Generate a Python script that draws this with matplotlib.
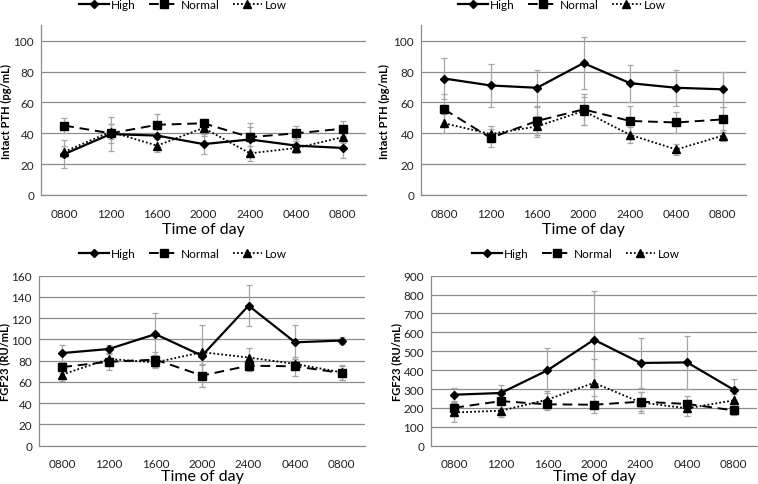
import matplotlib
matplotlib.use("Agg")
import matplotlib.pyplot as plt

plt.rcParams['font.family'] = ['Lato', 'DejaVu Sans']

times = ["0800", "1200", "1600", "2000", "2400", "0400", "0800"]
series_names = ["High", "Normal", "Low"]

# Panel A: Intact PTH (left)
pth_a_high = [26.5, 39.5, 38.5, 33, 36, 32, 30.5]
pth_a_high_err = [9, 11, 8, 6.5, 8, 4, 6.5]
pth_a_normal = [45, 40, 45.5, 46.5, 37.5, 40, 43]
pth_a_normal_err = [5, 6, 7, 3, 9, 5, 5]
pth_a_low = [28, 41, 32, 43.5, 27, 30.5, 37.5]
pth_a_low_err = [3.5, 5, 4, 5, 5, 3, 4]

# Panel B: Intact PTH (right)
pth_b_high = [75.5, 71, 69.5, 85.5, 72.5, 69.5, 68.5]
pth_b_high_err = [13, 14, 11.5, 17, 12, 11.5, 11.5]
pth_b_normal = [55.5, 37, 48, 55.5, 48, 47, 49]
pth_b_normal_err = [10, 6, 9, 10, 10, 7, 8]
pth_b_low = [46.5, 39.5, 44.5, 54.5, 39, 29.5, 38.5]
pth_b_low_err = [6, 5, 7, 9, 5, 3.5, 3.5]

# Panel C: FGF23 (left)
fgf_a_high = [87.2, 91, 105, 84.7, 131.8, 97.3, 99]
fgf_a_high_err = [8, 4, 20, 29, 19, 16, 3.5]
fgf_a_normal = [74, 79, 81, 66, 75.3, 74.7, 68.4]
fgf_a_normal_err = [6, 8, 7, 11, 5, 9, 7]
fgf_a_low = [67, 81.6, 78.4, 88, 83, 77, 69]
fgf_a_low_err = [6, 5, 5, 12, 9, 5, 7]

# Panel D: FGF23 (right)
fgf_b_high = [270, 279, 399, 561, 438, 441, 296]
fgf_b_high_err = [35, 45, 118, 256, 130, 139, 55]
fgf_b_normal = [201, 236, 219, 217, 233, 221, 187]
fgf_b_normal_err = [30, 40, 30, 45, 50, 40, 25]
fgf_b_low = [176, 185, 244, 333, 229, 198, 240]
fgf_b_low_err = [50, 35, 45, 125, 55, 40, 35]

W, H = 758, 485
fig = plt.figure(figsize=(W / 100, H / 100), dpi=100)

styles = [
    dict(linestyle='-', marker='D', markersize=4, linewidth=1.6),
    dict(linestyle=(0, (5, 3)), marker='s', markersize=6, linewidth=1.4),
    dict(linestyle=(0, (1, 1.2)), marker='^', markersize=5.5, linewidth=1.3),
]

panels = [
    dict(rect=(41, 26.3, 325, 169.7), ylim=(0, 110), yticks=range(0, 101, 20),
         ylabel="Intact PTH (pg/mL)",
         data=[(pth_a_high, pth_a_high_err), (pth_a_normal, pth_a_normal_err), (pth_a_low, pth_a_low_err)],
         leg=(183, 5.5), xlab_y=230, ylab_x=6),
    dict(rect=(421, 26.3, 325, 169.7), ylim=(0, 110), yticks=range(0, 101, 20),
         ylabel="Intact PTH (pg/mL)",
         data=[(pth_b_high, pth_b_high_err), (pth_b_normal, pth_b_normal_err), (pth_b_low, pth_b_low_err)],
         leg=(562, 5.5), xlab_y=230, ylab_x=384),
    dict(rect=(39, 276.7, 326, 170), ylim=(0, 160), yticks=range(0, 161, 20),
         ylabel="FGF23 (RU/mL)",
         data=[(fgf_a_high, fgf_a_high_err), (fgf_a_normal, fgf_a_normal_err), (fgf_a_low, fgf_a_low_err)],
         leg=(183, 255), xlab_y=477, ylab_x=5),
    dict(rect=(431, 276.7, 326, 170), ylim=(0, 900), yticks=range(0, 901, 100),
         ylabel="FGF23 (RU/mL)",
         data=[(fgf_b_high, fgf_b_high_err), (fgf_b_normal, fgf_b_normal_err), (fgf_b_low, fgf_b_low_err)],
         leg=(576, 255), xlab_y=477, ylab_x=397),
]

x = list(range(len(times)))
for p in panels:
    l, t, w, h = p['rect']
    ax = fig.add_axes([l / W, 1 - (t + h) / H, w / W, h / H])
    handles = []
    for (vals, errs), st, name in zip(p['data'], styles, series_names):
        ax.errorbar(x, vals, yerr=errs, fmt='none', ecolor='#a6a6a6', elinewidth=0.9,
                    capsize=2.5, capthick=0.9, zorder=2)
        ln, = ax.plot(x, vals, color='black', label=name, zorder=3, **st)
        handles.append(ln)
    ax.set_xlim(-0.5, 6.5)
    ax.set_ylim(*p['ylim'])
    ax.set_yticks(list(p['yticks']))
    ax.set_xticks(x)
    ax.set_xticklabels(times)
    ax.yaxis.grid(True, color='#8c8c8c', linewidth=0.9)
    ax.set_axisbelow(True)
    for s in ['top', 'right']:
        ax.spines[s].set_visible(False)
    for s in ['left', 'bottom']:
        ax.spines[s].set_color('#8c8c8c')
        ax.spines[s].set_linewidth(0.9)
    ax.tick_params(axis='both', length=0, labelsize=8.5, colors='#222222')
    ax.tick_params(axis='y', pad=5)
    ax.tick_params(axis='x', pad=9)
    ax.set_ylabel(p['ylabel'], fontsize=8, fontweight='bold', va='center')
    ax.yaxis.set_label_coords((p['ylab_x'] - l) / w, 0.5)
    ax.set_xlabel("Time of day", fontsize=11.5, va='center')
    ax.xaxis.set_label_coords(0.5, -(p['xlab_y'] - (t + h)) / h)
    lx, ly = p['leg']
    fig.legend(handles=handles, loc='center', bbox_to_anchor=(lx / W, 1 - ly / H),
               ncol=3, frameon=False, fontsize=8.5, handlelength=2.5,
               columnspacing=1.1, handletextpad=0.2, borderpad=0.1)

fig.savefig("out.png", dpi=100)
